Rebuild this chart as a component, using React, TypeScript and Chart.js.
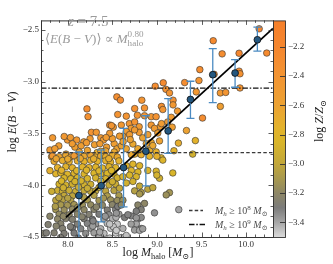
import React, { useEffect, useRef } from 'react';
import { Chart, registerables } from 'chart.js';

Chart.register(...registerables);

const FONT = '"Liberation Serif", "DejaVu Serif", serif';

// ---------- axes ----------
const xLimits = [7.7, 10.3];
const yLimits = [-4.5, -2.41];
const zLimits = [-3.5, -2.02];
const xMajorTicks = [8.0, 8.5, 9.0, 9.5, 10.0];
const yMajorTicks = [-4.5, -4.0, -3.5, -3.0, -2.5];
const zMajorTicks = [-3.4, -3.2, -3.0, -2.8, -2.6, -2.4, -2.2];

const redshiftLabel = '7.5';
const slopeLabel = '0.80';

// ---------- simulated galaxies: [log Mhalo, log E(B-V), log Z/Zsun] ----------
const galaxies: [number, number, number][] = [
  // upper sparse
  [8.215, -3.264, -2.30], [8.227, -3.339, -2.36], [8.55, -3.148, -2.33], [8.59, -3.179, -2.30],
  [8.56, -3.318, -2.38], [8.656, -3.334, -2.40], [8.75, -3.261, -2.35], [8.78, -3.325, -2.42],
  [8.83, -3.18, -2.40], [8.86, -3.255, -2.38], [8.86, -3.33, -2.42], [8.935, -3.339, -2.44],
  [8.99, -3.339, -2.38], [8.98, -3.045, -2.30], [9.07, -3.012, -2.25], [9.10, -3.075, -2.35],
  [9.14, -3.11, -2.40], [9.31, -3.01, -2.30], [9.44, -3.10, -2.45], [9.18, -3.18, -2.35],
  [9.18, -3.225, -2.45], [9.05, -3.24, -2.35], [9.065, -3.27, -2.42], [9.23, -3.285, -2.48],
  [9.16, -3.345, -2.50], [9.035, -3.436, -2.50], [9.33, -3.473, -2.60], [9.12, -3.39, -2.48],
  [9.17, -3.44, -2.55], [9.63, -2.606, -2.25], [9.73, -2.733, -2.30], [9.92, -2.727, -2.22],
  [10.145, -2.491, -2.15], [10.23, -2.725, -2.25], [9.48, -2.885, -2.30], [9.47, -2.99, -2.40],
  [9.64, -2.93, -2.35], [9.92, -2.90, -2.30], [9.93, -2.925, -2.35], [9.93, -3.062, -2.40],
  [9.71, -3.11, -2.45], [9.77, -3.105, -2.42], [9.71, -3.24, -2.55], [9.51, -3.352, -2.30],
  [8.47, -3.42, -2.40], [8.51, -3.44, -2.45], [8.49, -3.425, -2.42], [8.69, -3.406, -2.43],
  [8.75, -3.39, -2.40], [8.71, -3.452, -2.50], [8.80, -3.436, -2.48], [8.935, -3.42, -2.45],
  [9.05, -3.406, -2.50], [8.60, -3.42, -2.45], [8.972, -3.452, -2.50],
  // -3.45 .. -3.72
  [8.265, -3.49, -2.38], [8.32, -3.49, -2.45], [8.80, -3.49, -2.50], [8.656, -3.482, -2.50],
  [8.618, -3.527, -2.55], [8.693, -3.512, -2.50], [8.749, -3.467, -2.50], [8.84, -3.543, -2.60],
  [8.897, -3.512, -2.55], [8.935, -3.588, -2.65], [9.009, -3.497, -2.55], [9.028, -3.573, -2.60],
  [8.73, -3.603, -2.65], [8.786, -3.648, -2.65], [8.656, -3.648, -2.62], [8.916, -3.664, -2.70],
  [8.991, -3.679, -2.72], [8.805, -3.694, -2.68], [8.953, -3.618, -2.65], [9.24, -3.594, -2.70],
  [9.43, -3.57, -2.75], [9.19, -3.668, -2.75], [9.40, -3.70, -2.90], [7.997, -3.564, -2.45],
  [8.10, -3.564, -2.45], [8.25, -3.552, -2.48], [8.18, -3.582, -2.50], [8.37, -3.543, -2.45],
  [8.40, -3.564, -2.50], [8.58, -3.527, -2.52], [7.90, -3.621, -2.52], [8.08, -3.633, -2.55],
  [8.22, -3.664, -2.60], [8.435, -3.633, -2.55], [8.425, -3.67, -2.62], [8.33, -3.685, -2.70],
  [8.37, -3.673, -2.65], [7.98, -3.70, -2.62], [8.52, -3.60, -2.55], [8.30, -3.61, -2.55],
  [8.15, -3.62, -2.55], [7.80, -3.66, -2.50], [8.55, -3.65, -2.60], [8.50, -3.55, -2.52],
  [8.47, -3.50, -2.48], [8.60, -3.62, -2.60], [8.52, -3.68, -2.65], [8.13, -3.68, -2.62],
  [8.05, -3.60, -2.50], [7.83, -3.543, -2.45], [7.855, -3.648, -2.52], [7.818, -3.725, -2.60],
  [7.96, -3.53, -2.45], [8.03, -3.54, -2.48], [8.21, -3.59, -2.50], [8.36, -3.60, -2.52],
  [8.43, -3.54, -2.50], [8.70, -3.56, -2.58], [8.62, -3.58, -2.58], [8.88, -3.60, -2.62],
  [8.75, -3.70, -2.70],
  // dense low-mass field
  [7.829, -3.718, -2.45], [7.903, -3.725, -2.62], [7.978, -3.712, -2.65], [8.034, -3.728, -2.62],
  [8.071, -3.716, -2.48], [8.183, -3.722, -2.65], [8.257, -3.714, -2.62], [8.313, -3.73, -2.68],
  [8.369, -3.718, -2.66], [8.425, -3.725, -2.70], [8.499, -3.712, -2.68], [8.555, -3.728, -2.66],
  [7.847, -3.77, -2.68], [7.941, -3.762, -2.70], [8.015, -3.775, -2.72], [8.108, -3.765, -2.70],
  [8.183, -3.772, -2.74], [8.257, -3.76, -2.72], [8.332, -3.77, -2.75], [8.425, -3.764, -2.74],
  [8.48, -3.778, -2.76], [8.573, -3.766, -2.74],
  [7.885, -3.83, -2.74], [7.978, -3.822, -2.76], [8.052, -3.832, -2.75], [8.164, -3.824, -2.78],
  [8.238, -3.83, -2.76], [8.313, -3.826, -2.79], [8.388, -3.834, -2.80], [8.462, -3.822, -2.78],
  [8.536, -3.83, -2.80],
  [7.866, -3.89, -2.78], [7.922, -3.882, -2.80], [7.996, -3.894, -2.82], [8.071, -3.886, -2.80],
  [8.183, -3.892, -2.83], [8.294, -3.884, -2.84], [8.369, -3.89, -2.82], [8.443, -3.886, -2.85],
  [8.518, -3.894, -2.86],
  [7.959, -3.93, -2.84], [8.034, -3.938, -2.86], [8.108, -3.928, -2.85], [8.22, -3.936, -2.87],
  [8.313, -3.93, -2.88], [8.425, -3.938, -2.88], [8.555, -3.93, -2.90],
  [7.903, -3.99, -2.86], [7.978, -3.998, -2.88], [8.052, -3.99, -2.90], [8.183, -3.996, -2.90],
  [8.257, -3.992, -2.92], [8.462, -3.998, -2.94], [8.536, -3.99, -2.95],
  [7.885, -4.052, -2.92], [7.941, -4.06, -2.94], [8.015, -4.05, -2.95], [8.089, -4.058, -2.96],
  [8.183, -4.052, -2.98], [8.257, -4.06, -3.00], [8.313, -4.054, -3.00], [8.425, -4.058, -3.02],
  [8.518, -4.052, -3.04],
  [7.959, -4.10, -3.00], [8.052, -4.104, -3.02], [8.294, -4.098, -3.06], [8.443, -4.104, -3.08],
  [8.573, -4.10, -3.10],
  [7.866, -4.145, -3.02], [7.941, -4.14, -3.05], [8.034, -4.15, -3.06], [8.22, -4.142, -3.10],
  [8.35, -4.148, -3.12], [8.48, -4.142, -3.15], [8.555, -4.148, -3.16],
  [7.922, -4.19, -3.10], [7.996, -4.194, -3.12], [8.071, -4.188, -3.12], [8.164, -4.192, -3.15],
  [8.257, -4.19, -3.18], [8.388, -4.194, -3.20], [8.499, -4.188, -3.22],
  [7.866, -4.236, -3.12], [7.959, -4.24, -3.16], [8.052, -4.232, -3.18], [8.183, -4.238, -3.20],
  [8.294, -4.234, -3.24], [8.443, -4.24, -3.28], [8.536, -4.236, -3.32],
  [7.903, -4.28, -3.18], [8.015, -4.286, -3.20], [8.108, -4.28, -3.22], [8.238, -4.284, -3.26],
  [8.35, -4.28, -3.30], [8.462, -4.286, -3.34], [8.573, -4.28, -3.38],
  [7.885, -4.327, -3.20], [7.978, -4.322, -3.24], [8.052, -4.33, -3.26], [8.183, -4.324, -3.28],
  [8.276, -4.33, -3.32], [8.406, -4.326, -3.38], [8.499, -4.322, -3.42],
  [7.922, -4.372, -3.24], [8.108, -4.376, -3.28], [8.22, -4.37, -3.32], [8.313, -4.374, -3.36],
  [8.443, -4.37, -3.44], [8.555, -4.376, -3.46],
  [7.941, -4.418, -3.26], [8.052, -4.414, -3.30], [8.145, -4.42, -3.32], [8.257, -4.416, -3.36],
  [8.369, -4.42, -3.42], [8.48, -4.416, -3.46],
  [7.735, -4.464, -3.25], [7.847, -4.46, -3.26], [7.959, -4.466, -3.28], [8.071, -4.462, -3.30],
  [8.201, -4.466, -3.34], [8.294, -4.46, -3.38], [8.406, -4.466, -3.44], [8.536, -4.462, -3.47],
  [7.87, -3.745, -2.62], [8.0, -3.748, -2.66], [8.14, -3.742, -2.64], [8.29, -3.746, -2.70],
  [8.46, -3.744, -2.70], [7.93, -3.856, -2.76], [8.10, -3.86, -2.80], [8.21, -3.855, -2.80],
  [8.35, -3.862, -2.82], [8.49, -3.858, -2.84], [7.93, -3.96, -2.85], [8.08, -3.965, -2.88],
  [8.15, -3.958, -2.88], [8.37, -3.962, -2.90], [8.50, -3.966, -2.92], [7.95, -4.025, -2.92],
  [8.12, -4.02, -2.95], [8.22, -4.03, -2.96], [8.35, -4.022, -2.98], [8.58, -4.03, -3.00],
  [7.90, -4.12, -3.02], [8.0, -4.125, -3.05], [8.18, -4.118, -3.08], [8.40, -4.125, -3.12],
  [7.86, -4.205, -3.08], [8.11, -4.215, -3.15], [8.32, -4.21, -3.22], [8.56, -4.205, -3.30],
  [7.95, -4.30, -3.20], [8.16, -4.305, -3.24], [8.42, -4.30, -3.36], [8.54, -4.31, -3.42],
  [7.87, -4.395, -3.24], [8.03, -4.40, -3.28], [8.28, -4.395, -3.38], [8.51, -4.40, -3.46],
  [7.92, -4.505, -3.28], [8.12, -4.51, -3.32], [8.35, -4.505, -3.42], [8.47, -4.51, -3.46],
  [8.60, -4.505, -3.44],
  [7.80, -3.86, -2.72], [7.78, -4.38, -3.26], [7.76, -4.46, -3.28], [7.80, -4.30, -3.22],
  [7.82, -4.06, -2.95],
  // intermediate mass, lower part
  [8.712, -3.706, -2.65], [8.823, -3.706, -2.70], [8.916, -3.721, -2.75], [9.047, -3.736, -2.80],
  [9.065, -3.758, -2.82], [8.998, -3.721, -2.72], [8.656, -3.812, -2.78], [8.73, -3.797, -2.80],
  [8.805, -3.812, -2.80], [8.712, -3.858, -2.82], [8.786, -3.873, -2.85], [8.897, -3.858, -2.82],
  [8.991, -3.865, -2.85], [9.028, -3.933, -2.92], [8.998, -3.903, -2.88], [9.177, -3.882, -2.85],
  [8.618, -3.918, -2.82], [8.693, -3.903, -2.85], [8.768, -3.918, -2.86], [8.656, -3.979, -2.90],
  [8.73, -3.964, -2.90], [8.805, -4.009, -2.98], [8.897, -4.039, -3.02], [8.953, -4.024, -3.00],
  [8.749, -4.055, -3.05], [8.823, -4.07, -3.08], [8.805, -4.085, -3.10], [9.14, -4.072, -3.12],
  [9.103, -4.094, -3.15], [8.618, -4.145, -3.15], [8.60, -4.191, -3.20], [8.786, -4.191, -3.22],
  [8.86, -4.176, -3.20], [8.823, -4.236, -3.28], [8.768, -4.252, -3.30], [8.637, -4.312, -3.30],
  [8.712, -4.297, -3.32], [8.786, -4.327, -3.35], [8.823, -4.312, -3.33], [8.768, -4.373, -3.40],
  [8.972, -4.267, -3.35], [9.244, -4.236, -3.40], [8.618, -4.418, -3.42], [8.749, -4.433, -3.38],
  [8.823, -4.418, -3.36], [8.656, -4.485, -3.45], [8.47, -4.375, -3.46], [8.544, -4.436, -3.47],
  [8.358, -4.452, -3.40], [8.674, -4.285, -3.32], [8.71, -4.375, -3.38], [8.768, -4.315, -3.36],
  [8.805, -4.436, -3.40], [8.84, -4.421, -3.38], [8.544, -4.27, -3.36], [8.283, -4.345, -3.32],
];

// ---------- binned medians with percentile ranges ----------
const binCenters = [8.125, 8.375, 8.625, 8.875, 9.125, 9.375, 9.625, 9.875, 10.125];
const binMedians = [-4.10, -4.005, -3.83, -3.672, -3.476, -3.173, -2.934, -2.918, -2.597];
const binLower = [-4.62, -4.355, -4.21, -4.006, -3.694, -3.355, -3.203, -3.055, -2.706];
const binUpper = [-3.68, -3.66, -3.452, -3.33, -3.164, -2.997, -2.682, -2.788, -2.475];

// ---------- power-law fit ----------
const fitX = [7.98, 10.3];
const fitY = [-4.31, -2.487];

// ---------- E(B-V) thresholds ----------
const cutMh8 = -3.685;
const cutMh9 = -3.064;

// ---------- colormap ----------
const colorStops: [number, string][] = [
  [-3.5, '#dadada'], [-3.4, '#a6a6a6'], [-3.3, '#7c7c7b'], [-3.2, '#8e8766'],
  [-3.1, '#a8994f'], [-3.0, '#c2a73a'], [-2.85, '#d9b52a'], [-2.75, '#e3b22c'],
  [-2.6, '#eca232'], [-2.4, '#f39432'], [-2.2, '#f5862e'], [-2.02, '#f57f2a'],
];

function hexRgb(h: string) {
  const n = parseInt(h.slice(1), 16);
  return [(n >> 16) & 255, (n >> 8) & 255, n & 255];
}
function cmap(z: number) {
  const s = colorStops;
  if (z <= s[0][0]) return s[0][1];
  if (z >= s[s.length - 1][0]) return s[s.length - 1][1];
  for (let i = 0; i < s.length - 1; i++) {
    if (z >= s[i][0] && z <= s[i + 1][0]) {
      const t = (z - s[i][0]) / (s[i + 1][0] - s[i][0]);
      const a = hexRgb(s[i][1]);
      const b = hexRgb(s[i + 1][1]);
      const c = a.map((v, k) => Math.round(v + (b[k] - v) * t));
      return `rgb(${c[0]},${c[1]},${c[2]})`;
    }
  }
  return s[0][1];
}

type Seg = { t: string; it?: boolean; sc?: number; dy?: number; stack?: boolean };
const fontOf = (s: Seg, size: number) => `${s.it ? 'italic ' : ''}${(s.sc ?? 1) * size}px ${FONT}`;
function drawRich(ctx: CanvasRenderingContext2D, segs: Seg[], x: number, y: number, size: number, align: 'left' | 'center') {
  const items: { s: Seg; x: number }[] = [];
  let cx = 0;
  let lastStart = 0;
  for (const s of segs) {
    ctx.font = fontOf(s, size);
    const w = ctx.measureText(s.t).width;
    if (s.stack) {
      items.push({ s, x: lastStart });
      cx = Math.max(cx, lastStart + w);
    } else {
      items.push({ s, x: cx });
      lastStart = cx;
      cx += w;
    }
  }
  const x0 = align === 'center' ? x - cx / 2 : x;
  for (const it of items) {
    ctx.font = fontOf(it.s, size);
    ctx.fillText(it.s.t, x0 + it.x, y + (it.s.dy ?? 0) * size);
  }
}

const fmt = (v: number) => (v < 0 ? '\u2212' : '') + Math.abs(v).toFixed(1);

const decorPlugin = {
  id: 'decor',
  afterDatasetDraw(chart: any, args: any) {
    if (args.index !== 3) return;
    const { ctx, chartArea: a, scales } = chart;
    const xs = scales.x;
    const ys = scales.y;
    ctx.save();
    ctx.beginPath();
    ctx.rect(a.left, a.top, a.right - a.left, a.bottom - a.top);
    ctx.clip();
    ctx.strokeStyle = '#4b8bc2';
    ctx.lineWidth = 1.3;
    ctx.beginPath();
    binCenters.forEach((bx, i) => {
      const px = xs.getPixelForValue(bx);
      const lo = ys.getPixelForValue(binLower[i]);
      const hi = ys.getPixelForValue(binUpper[i]);
      ctx.moveTo(px, lo);
      ctx.lineTo(px, hi);
      ctx.moveTo(px - 4, lo);
      ctx.lineTo(px + 4, lo);
      ctx.moveTo(px - 4, hi);
      ctx.lineTo(px + 4, hi);
    });
    ctx.stroke();
    ctx.restore();
  },
  afterDraw(chart: any) {
    const { ctx, chartArea: a, scales } = chart;
    const xs = scales.x;
    const ys = scales.y;
    const zs = scales.z;
    ctx.save();

    // ticks (inward) on all sides
    ctx.strokeStyle = '#333';
    ctx.lineWidth = 0.8;
    ctx.beginPath();
    for (let k = 77; k <= 103; k++) {
      const px = Math.round(xs.getPixelForValue(k / 10)) + 0.5;
      const L = k % 5 === 0 ? 4.5 : 2.5;
      ctx.moveTo(px, a.bottom);
      ctx.lineTo(px, a.bottom - L);
      ctx.moveTo(px, a.top);
      ctx.lineTo(px, a.top + L);
    }
    for (let k = -45; k <= -25; k++) {
      const py = Math.round(ys.getPixelForValue(k / 10)) + 0.5;
      const L = k % 5 === 0 ? 4.5 : 2.5;
      ctx.moveTo(a.left, py);
      ctx.lineTo(a.left + L, py);
      ctx.moveTo(a.right, py);
      ctx.lineTo(a.right - L, py);
    }
    ctx.stroke();
    ctx.lineWidth = 1;
    ctx.strokeRect(a.left + 0.5, a.top + 0.5, a.right - a.left, a.bottom - a.top);

    // colorbar
    const cbL = a.right + 0.5;
    const cbW = 12;
    const g = ctx.createLinearGradient(0, a.top, 0, a.bottom);
    colorStops.forEach(([z, c]) => {
      const off = (zs.getPixelForValue(z) - a.top) / (a.bottom - a.top);
      g.addColorStop(Math.min(1, Math.max(0, off)), c);
    });
    ctx.fillStyle = g;
    ctx.fillRect(cbL, a.top + 0.5, cbW, a.bottom - a.top);
    ctx.strokeStyle = '#333';
    ctx.lineWidth = 0.9;
    ctx.strokeRect(cbL, a.top + 0.5, cbW, a.bottom - a.top);
    ctx.beginPath();
    zMajorTicks.forEach((z) => {
      const py = Math.round(zs.getPixelForValue(z)) + 0.5;
      ctx.moveTo(cbL + cbW, py);
      ctx.lineTo(cbL + cbW - 5.5, py);
    });
    ctx.stroke();

    // reference lines legend
    ctx.strokeStyle = '#3a3a3a';
    ctx.lineWidth = 1.3;
    ctx.setLineDash([3.5, 2.2]);
    ctx.beginPath();
    ctx.moveTo(189, 210.5);
    ctx.lineTo(203, 210.5);
    ctx.stroke();
    ctx.strokeStyle = '#111';
    ctx.setLineDash([5.5, 1.8, 1.5, 1.8]);
    ctx.beginPath();
    ctx.moveTo(189, 224.5);
    ctx.lineTo(205, 224.5);
    ctx.stroke();
    ctx.setLineDash([]);

    ctx.textBaseline = 'alphabetic';
    ctx.fillStyle = '#4d4d4d';
    drawRich(ctx, [
      { t: 'M', it: true }, { t: 'h', it: true, sc: 0.7, dy: 0.25 }, { t: ' \u2265 10' },
      { t: '8', sc: 0.7, dy: -0.4 }, { t: ' ' }, { t: 'M', it: true }, { t: '\u2299', sc: 0.7, dy: 0.25 },
    ], 215, 213.5, 10, 'left');
    drawRich(ctx, [
      { t: 'M', it: true }, { t: 'h', it: true, sc: 0.7, dy: 0.25 }, { t: ' \u2265 10' },
      { t: '9', sc: 0.7, dy: -0.4 }, { t: ' ' }, { t: 'M', it: true }, { t: '\u2299', sc: 0.7, dy: 0.25 },
    ], 215, 227.5, 10, 'left');

    // annotations
    ctx.fillStyle = '#9b9b9b';
    drawRich(ctx, [{ t: 'z', it: true }, { t: ' = ' + redshiftLabel }], 68, 25.5, 15, 'left');
    drawRich(ctx, [
      { t: '\u27E8' }, { t: 'E', it: true }, { t: '(' }, { t: 'B', it: true }, { t: ' \u2212 ' },
      { t: 'V', it: true }, { t: ')' }, { t: '\u27E9 \u221D ' }, { t: 'M', it: true },
      { t: 'halo', sc: 0.7, dy: 0.3 }, { t: slopeLabel, sc: 0.7, dy: -0.45, stack: true },
    ], 45, 42.5, 13, 'left');

    // axis titles
    ctx.fillStyle = '#222';
    drawRich(ctx, [
      { t: 'log ' }, { t: 'M', it: true }, { t: 'halo', sc: 0.7, dy: 0.25 }, { t: ' [' },
      { t: 'M', it: true }, { t: '\u2299', sc: 0.7, dy: 0.25 }, { t: ']' },
    ], 158, 255.5, 12, 'center');

    ctx.save();
    ctx.translate(16, 122);
    ctx.rotate(-Math.PI / 2);
    drawRich(ctx, [
      { t: 'log ' }, { t: 'E', it: true }, { t: '(' }, { t: 'B', it: true }, { t: ' \u2212 ' },
      { t: 'V', it: true }, { t: ')' },
    ], 0, 0, 12, 'center');
    ctx.restore();

    ctx.save();
    ctx.translate(323, 121);
    ctx.rotate(-Math.PI / 2);
    drawRich(ctx, [
      { t: 'log ' }, { t: 'Z', it: true }, { t: '/' }, { t: 'Z', it: true }, { t: '\u2299', sc: 0.7, dy: 0.25 },
    ], 0, 0, 12, 'center');
    ctx.restore();

    ctx.restore();
  },
};

export default function App() {
  const ref = useRef<HTMLCanvasElement>(null);
  useEffect(() => {
    const tickFont = { family: FONT, size: 9 };
    const chart = new Chart(ref.current as HTMLCanvasElement, {
      type: 'scatter',
      data: {
        datasets: [
          {
            type: 'scatter',
            data: galaxies.map((g) => ({ x: g[0], y: g[1] })),
            pointBackgroundColor: galaxies.map((g) => cmap(g[2])),
            pointBorderColor: '#333',
            pointBorderWidth: 0.6,
            pointRadius: 3.3,
            order: 10,
            clip: 0,
          } as any,
          {
            type: 'line',
            data: [{ x: xLimits[0], y: cutMh8 }, { x: xLimits[1], y: cutMh8 }],
            borderColor: '#3a3a3a',
            borderWidth: 1.3,
            borderDash: [3.5, 2.2],
            pointRadius: 0,
            showLine: true,
            order: 9,
            clip: 0,
          } as any,
          {
            type: 'line',
            data: [{ x: xLimits[0], y: cutMh9 }, { x: xLimits[1], y: cutMh9 }],
            borderColor: '#111',
            borderWidth: 1.3,
            borderDash: [5.5, 1.8, 1.5, 1.8],
            pointRadius: 0,
            showLine: true,
            order: 8,
            clip: 0,
          } as any,
          {
            type: 'line',
            data: fitX.map((x, i) => ({ x, y: fitY[i] })),
            borderColor: '#000',
            borderWidth: 1.8,
            pointRadius: 0,
            showLine: true,
            order: 7,
            clip: 0,
          } as any,
          {
            type: 'scatter',
            data: binCenters.map((x, i) => ({ x, y: binMedians[i] })),
            pointBackgroundColor: '#24577f',
            pointBorderColor: '#0d0d0d',
            pointBorderWidth: 0.8,
            pointRadius: 3.4,
            order: 1,
            clip: 0,
          } as any,
        ],
      },
      options: {
        animation: false,
        responsive: false,
        devicePixelRatio: 1,
        events: [],
        layout: { padding: { top: 7, left: 0, right: 0, bottom: 0 } },
        plugins: { legend: { display: false }, tooltip: { enabled: false } },
        scales: {
          x: {
            type: 'linear',
            position: 'bottom',
            min: xLimits[0],
            max: xLimits[1],
            afterBuildTicks: (s: any) => { s.ticks = xMajorTicks.map((v) => ({ value: v })); },
            afterFit: (s: any) => { s.height = 27; },
            grid: { display: false, drawTicks: false },
            border: { display: false },
            ticks: { font: tickFont, color: '#333', padding: 2, maxRotation: 0, autoSkip: false, callback: (v: any) => Number(v).toFixed(1) },
          },
          y: {
            type: 'linear',
            position: 'left',
            min: yLimits[0],
            max: yLimits[1],
            afterBuildTicks: (s: any) => { s.ticks = yMajorTicks.map((v) => ({ value: v })); },
            afterFit: (s: any) => { s.width = 41; },
            grid: { display: false, drawTicks: false },
            border: { display: false },
            ticks: { font: tickFont, color: '#333', padding: 2, autoSkip: false, callback: (v: any) => fmt(Number(v)) },
          },
          z: {
            type: 'linear',
            axis: 'y',
            position: 'right',
            min: zLimits[0],
            max: zLimits[1],
            afterBuildTicks: (s: any) => { s.ticks = zMajorTicks.map((v) => ({ value: v })); },
            afterFit: (s: any) => { s.width = 60; },
            grid: { display: false, drawTicks: false },
            border: { display: false },
            ticks: { font: tickFont, color: '#333', padding: 15, autoSkip: false, callback: (v: any) => fmt(Number(v)) },
          },
        } as any,
      },
      plugins: [decorPlugin],
    } as any);
    return () => chart.destroy();
  }, []);
  return (
    <div style={{ position: 'fixed', left: 0, top: 0, width: 333, height: 264, background: '#fff' }}>
      <canvas ref={ref} width={333} height={264} style={{ width: 333, height: 264, display: 'block' }} />
    </div>
  );
}
